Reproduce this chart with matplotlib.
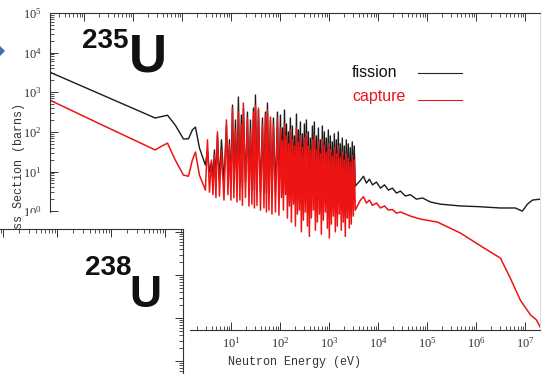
import numpy as np
import matplotlib
matplotlib.use("Agg")
import matplotlib.pyplot as plt
from matplotlib.patches import Rectangle, Polygon
from matplotlib.ticker import LogLocator, NullFormatter, FuncFormatter

plt.rcParams['font.family'] = 'serif'
plt.rcParams['font.serif'] = ['Liberation Serif', 'DejaVu Serif']

# U-235 cross sections in barns against neutron energy in eV

# thermal and 1/v region up to the first resonances
low_energy = [0.002, 0.021, 0.28, 0.36, 0.50, 0.72, 1.06, 1.34, 1.61, 1.86]
fission_low = [3200, 900, 224, 240, 263, 148, 66, 67, 112, 132]
capture_low = [630, 158, 35, 42, 52, 19.5, 8.1, 7.6, 19.5, 31]

# resolved resonances, alternating valley / peak
res_energy = [2.24, 2.97, 3.27, 3.59, 3.94, 4.23, 4.54, 4.87, 5.23, 5.74,
              6.31, 7.10, 7.98, 8.56, 9.19, 9.86, 10.6, 11.3, 12.2, 13.1,
              14.0, 15.0, 16.1, 16.9, 17.7, 19.5, 21.4, 23.0, 24.7, 26.4,
              28.4, 29.7, 31.2, 33.5, 35.9, 39.5, 43.4, 46.5, 49.9, 52.3,
              54.8, 58.8, 63.1, 67.7, 72.6, 79.8, 87.7, 94.0]
fission_res = [39.6, 14.5, 35, 9.7, 17.3, 8.1, 35, 6.8, 84, 6.0,
               63, 5.4, 150, 6.8, 63, 5.4, 475, 6.0, 200, 4.6,
               757, 5.0, 266, 3.8, 399, 5.4, 316, 3.4, 200, 4.6,
               399, 3.4, 849, 3.8, 356, 3.0, 224, 3.4, 316, 2.7,
               534, 3.4, 200, 2.6, 224, 3.0, 316, 2.4]
capture_res = [8.1, 3.4, 63, 3.0, 19.5, 2.6, 26.5, 2.2, 100, 2.4,
               35, 1.9, 200, 2.6, 47, 1.9, 399, 2.2, 112, 1.7,
               316, 1.9, 150, 1.4, 534, 2.2, 224, 1.35, 112, 1.5,
               316, 1.2, 475, 1.4, 399, 1.06, 150, 1.2, 266, 0.95,
               356, 1.06, 237, 0.84, 150, 0.95, 224, 0.79]

# dense resonance band (100 eV - 3.4 keV), peaks and troughs in turn
band_energy = [101, 106, 111, 116, 122, 128, 134, 140, 147, 154,
               161, 169, 177, 186, 195, 204, 214, 224, 235, 246,
               258, 270, 283, 297, 311, 326, 342, 358, 375, 393,
               412, 432, 453, 475, 497, 521, 546, 572, 600, 629,
               659, 690, 723, 758, 795, 833, 873, 915, 958, 1004,
               1052, 1103, 1156, 1211, 1270, 1330, 1394, 1461, 1531, 1605,
               1682, 1762, 1847, 1935, 2028, 2126, 2228, 2335, 2447, 2564,
               2687, 2816, 2952, 3093, 3242, 3397]
fission_band_peaks = [266, 126, 356, 158, 100, 224, 141, 79, 281, 112,
                      178, 89, 158, 200, 100, 70, 141, 178, 79, 126,
                      63, 141, 100, 70, 112, 79, 56, 89, 63, 100,
                      50, 70, 44, 63, 50, 40, 56, 44]
fission_band_troughs = [6.8, 4.3, 9.7, 3.4, 5.4, 2.6, 6.0, 2.2, 3.8, 4.8,
                        1.5, 3.0, 4.3, 2.2, 1.2, 3.4, 4.3, 1.7, 2.4, 3.8,
                        1.35, 2.7, 4.3, 1.9, 1.06, 2.4, 3.4, 1.5, 2.2, 3.4,
                        1.7, 2.4, 1.35, 3.0, 1.9, 2.4, 3.4, 4.3]
capture_band_peaks = [126, 63, 158, 79, 50, 112, 63, 44, 126, 56,
                      79, 40, 70, 89, 44, 35, 63, 79, 35, 56,
                      28, 63, 44, 31, 50, 35, 25, 40, 28, 44,
                      22, 31, 19.5, 28, 22, 17.3, 25, 19.5]
capture_band_troughs = [2.2, 1.06, 2.6, 0.67, 1.35, 0.53, 1.5, 0.42, 0.84, 1.06,
                        0.30, 0.59, 0.95, 0.42, 0.23, 0.67, 1.06, 0.33, 0.53, 0.84,
                        0.26, 0.59, 0.95, 0.37, 0.21, 0.47, 0.75, 0.30, 0.42, 0.84,
                        0.33, 0.53, 0.23, 0.67, 0.37, 0.47, 0.75, 1.06]

# unresolved and fast region
fast_energy = [4330, 4990, 5740, 6610, 7620, 9190, 11100, 13400, 16100, 19500,
               23500, 28400, 35900, 45400, 60200, 79800, 116000, 186000, 475000,
               1.06e6, 3.12e6, 6.3e6, 8.7e6, 1.11e7, 1.40e7, 2.0e7]
fission_fast = [6.0, 7.6, 5.1, 6.4, 4.6, 5.4, 3.8, 4.6, 3.4, 3.8,
                2.85, 3.2, 2.4, 2.6, 2.0, 2.15, 1.7, 1.5, 1.35,
                1.3, 1.2, 1.2, 1.0, 1.5, 1.9, 2.0]
capture_fast_energy = [4330, 4990, 5740, 6610, 7620, 9190, 11100, 13400, 16100, 19500,
                       23500, 28400, 45400, 72600, 161000, 475000, 1.40e6, 3.12e6,
                       4.99e6, 7.98e6, 1.28e7, 1.69e7, 2.0e7]
capture_fast = [1.9, 2.3, 1.6, 1.9, 1.4, 1.6, 1.2, 1.35, 1.06, 1.1,
                0.89, 0.95, 0.75, 0.63, 0.53, 0.28, 0.12, 0.065,
                0.020, 0.0056, 0.0024, 0.0018, 0.0012]


def weave(peaks, troughs):
    out = np.empty(len(peaks) + len(troughs))
    out[0::2] = peaks
    out[1::2] = troughs
    return out


def decade_label(v, pos):
    # the lower decades sit under the overlapping panel, so leave them blank
    if v < 0.9:
        return ''
    return r'$\mathdefault{10^{%d}}$' % int(round(np.log10(v)))


e_fission = np.concatenate([low_energy, res_energy, band_energy, fast_energy])
s_fission = np.concatenate([fission_low, fission_res,
                            weave(fission_band_peaks, fission_band_troughs), fission_fast])
e_capture = np.concatenate([low_energy, res_energy, band_energy, capture_fast_energy])
s_capture = np.concatenate([capture_low, capture_res,
                            weave(capture_band_peaks, capture_band_troughs), capture_fast])

W, H = 542, 374
fig = plt.figure(figsize=(W / 100, H / 100), dpi=100)


def fx(px):
    return px / W


def fy(py):
    return 1 - py / H


ax = fig.add_axes([fx(50), fy(330), (540 - 50) / W, (330 - 13) / H])
ax.plot(e_fission, s_fission, color='#1a1a1a', lw=1.0)
ax.plot(e_capture, s_capture, color='#ee1414', lw=1.1)
ax.set_xscale('log')
ax.set_yscale('log')
ax.set_xlim(2e-3, 2e7)
ax.set_ylim(1e-3, 1e5)

for axis in (ax.xaxis, ax.yaxis):
    axis.set_major_locator(LogLocator(base=10, numticks=30))
    axis.set_minor_locator(LogLocator(base=10, subs=np.arange(2, 10), numticks=300))
    axis.set_major_formatter(FuncFormatter(decade_label))
    axis.set_minor_formatter(NullFormatter())
ax.tick_params(which='both', direction='in', top=True, right=False,
               colors='#333333', labelsize=9)
ax.tick_params(which='major', length=6, width=0.7)
ax.tick_params(which='minor', length=3, width=0.6)
ax.tick_params(axis='x', pad=4)
ax.tick_params(axis='y', pad=6)
for side in ('top', 'left', 'bottom'):
    ax.spines[side].set_color('#333333')
    ax.spines[side].set_linewidth(0.8)
ax.spines['right'].set_color('#dddddd')

ax.set_xlabel('Neutron Energy (eV)', family='Liberation Mono', fontsize=8.5,
              color='#333333', labelpad=4)
ax.set_ylabel('Cross Section (barns)', family='Liberation Mono', fontsize=8.5,
              color='#333333')
ax.yaxis.set_label_coords(-0.052, 0.484)

# legend entries: label on the left, line sample on the right
ax.text(0.6163, 0.798, 'fission', transform=ax.transAxes, family='Liberation Sans',
        fontsize=11.5, color='#111111', va='baseline')
ax.text(0.6163, 0.722, 'capture', transform=ax.transAxes, family='Liberation Sans',
        fontsize=11.5, color='#e8141e', va='baseline')
ax.plot([0.751, 0.841], [0.811, 0.811], transform=ax.transAxes, color='#222222', lw=0.8)
ax.plot([0.751, 0.841], [0.725, 0.725], transform=ax.transAxes, color='#e8141e', lw=0.8)

# panel for the second isotope overlapping the lower left corner
fig.add_artist(Rectangle((fx(28), 0), fx(190) - fx(28), (H - 213) / H,
                         transform=fig.transFigure, facecolor='white',
                         edgecolor='none', zorder=2))
ins = fig.add_axes([0, 0, fx(183), (H - 229) / H])
ins.set_zorder(3)
ins.set_facecolor('white')
ins.set_xscale('log')
ins.set_yscale('log')
ins.set_xlim(10 ** -0.056, 10 ** 3.333)
ins.set_ylim(10 ** -0.30, 10 ** 3.07)
for axis in (ins.xaxis, ins.yaxis):
    axis.set_major_locator(LogLocator(base=10, numticks=30))
    axis.set_minor_locator(LogLocator(base=10, subs=np.arange(2, 10), numticks=300))
ins.tick_params(which='both', direction='in', top=True, bottom=False, left=False,
                right=True, labeltop=False, labelbottom=False, labelleft=False,
                labelright=False, colors='#333333')
ins.tick_params(which='major', length=6, width=0.7)
ins.tick_params(which='minor', length=3, width=0.6)
ins.spines['left'].set_visible(False)
ins.spines['bottom'].set_visible(False)
for side in ('top', 'right'):
    ins.spines[side].set_color('#333333')
    ins.spines[side].set_linewidth(0.8)

# isotope names
fig.text(fx(82), fy(48), '235', family='Liberation Sans', fontweight='bold',
         fontsize=20, color='#111111', va='baseline', zorder=5)
fig.text(fx(129), fy(72), 'U', family='Liberation Sans', fontweight='bold',
         fontsize=38, color='#111111', va='baseline', zorder=5)
fig.text(fx(85), fy(275), '238', family='Liberation Sans', fontweight='bold',
         fontsize=20, color='#111111', va='baseline', zorder=5)
fig.text(fx(129), fy(307), 'U', family='Liberation Sans', fontweight='bold',
         fontsize=32, color='#111111', va='baseline', zorder=5)

# blue pointer at the left edge
fig.add_artist(Polygon([(fx(-4), fy(51)), (fx(0), fy(46)), (fx(5), fy(51)), (fx(0), fy(56))],
                       closed=True, transform=fig.transFigure, facecolor='#3d6fb3',
                       edgecolor='none', zorder=5))

fig.savefig('out.png', dpi=100, facecolor='white')
